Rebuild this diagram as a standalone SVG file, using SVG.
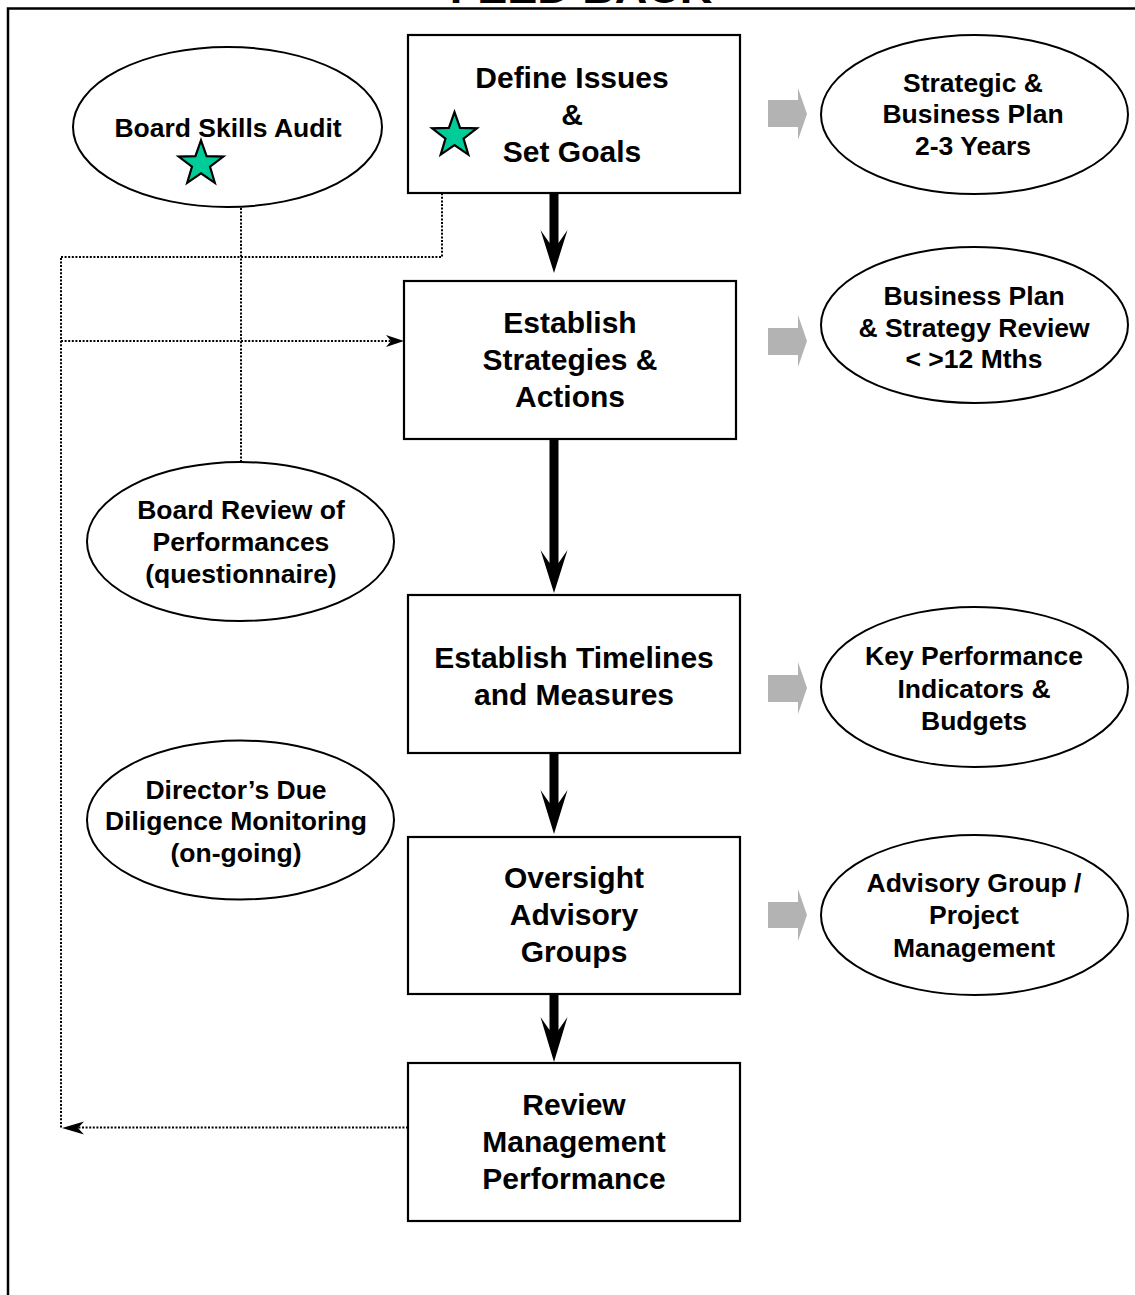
<svg xmlns="http://www.w3.org/2000/svg" width="1135" height="1295" viewBox="0 0 1135 1295">
<style>
  .box { fill: #ffffff; stroke: #000000; stroke-width: 2.2; }
  .ell { fill: #ffffff; stroke: #000000; stroke-width: 2; }
  .bt { font-family: "Liberation Sans", Arial, sans-serif; font-weight: bold; font-size: 30px; text-anchor: middle; fill: #000000; }
  .et { font-family: "Liberation Sans", Arial, sans-serif; font-weight: bold; font-size: 26.5px; text-anchor: middle; fill: #000000; }
  .dot { fill: none; stroke: #000000; stroke-width: 2; stroke-dasharray: 2 1.6; }
  .head { fill: #000000; stroke: none; }
  .grey { fill: #b3b3b3; stroke: none; }
  .flow { fill: #000000; stroke: none; }
  .star { fill: #00cc99; stroke: #000000; stroke-width: 2.2; stroke-linejoin: miter; }
</style>
<defs>
  <polygon id="starShape" points="0,-23.5 5.58,-7.69 22.35,-7.26 9.04,2.94 13.81,19.01 0,9.5 -13.81,19.01 -9.04,2.94 -22.35,-7.26 -5.58,-7.69"/>
</defs>
<rect x="0" y="0" width="1135" height="1295" fill="#ffffff"/>

<g id="frame">
  <path d="M 8,1295 V 8.5 H 1135" fill="none" stroke="#000000" stroke-width="2.5"/>
  <text x="581" y="3" font-family="Liberation Sans, Arial, sans-serif" font-weight="bold" font-size="45" text-anchor="middle">FEED BACK</text>
</g>

<g id="connectors">
  <!-- main flow arrows -->
  <polygon class="flow" points="549.5,193 558.5,193 558.5,243 567.5,230 554,273 540.5,230 549.5,243"/>
  <polygon class="flow" points="549.5,436 558.5,436 558.5,563 567.5,550 554,593 540.5,550 549.5,563"/>
  <polygon class="flow" points="549.5,753 558.5,753 558.5,803 567.5,790 554,834 540.5,790 549.5,803"/>
  <polygon class="flow" points="549.5,994 558.5,994 558.5,1030 567.5,1017 554,1062 540.5,1017 549.5,1030"/>
  <!-- grey block arrows -->
  <polygon class="grey" points="768,100 798,100 798,88 807,114 798,140 798,127 768,127"/>
  <polygon class="grey" points="768,328 798,328 798,315 807,341 798,367 798,355 768,355"/>
  <polygon class="grey" points="768,675 798,675 798,662 807,688 798,714 798,702 768,702"/>
  <polygon class="grey" points="768,902 798,902 798,889 807,915 798,941 798,928 768,928"/>
  <!-- dotted feedback lines -->
  <path class="dot" d="M 408,1127.5 H 70"/>
  <path class="dot" d="M 61,1127.5 V 257"/>
  <path class="dot" d="M 61,257 H 442 V 163"/>
  <path class="dot" d="M 61,341 H 392"/>
  <path class="dot" d="M 241,462 V 167 H 214"/>
  <polygon class="head" points="62,1128 84,1121.5 78,1128 84,1134.5"/>
  <polygon class="head" points="404,341 386,335 391,341 386,347"/>
  <polygon class="head" points="442,155 438,164 446,164"/>
  <polygon class="head" points="207,167 218,162.5 215,167 218,171.5"/>
</g>

<g id="node-define">
  <rect class="box" x="408" y="35" width="332" height="158"/>
  <text class="bt" x="572" y="88">Define Issues</text>
  <text class="bt" x="572" y="125">&amp;</text>
  <text class="bt" x="572" y="162">Set Goals</text>
  <use href="#starShape" class="star" transform="translate(454.5,135.6)"/>
</g>

<g id="node-strategies">
  <rect class="box" x="404" y="281" width="332" height="158"/>
  <text class="bt" x="570" y="333">Establish</text>
  <text class="bt" x="570" y="370">Strategies &amp;</text>
  <text class="bt" x="570" y="407">Actions</text>
</g>

<g id="node-timelines">
  <rect class="box" x="408" y="595" width="332" height="158"/>
  <text class="bt" x="574" y="668">Establish Timelines</text>
  <text class="bt" x="574" y="705">and Measures</text>
</g>

<g id="node-oversight">
  <rect class="box" x="408" y="837" width="332" height="157"/>
  <text class="bt" x="574" y="888">Oversight</text>
  <text class="bt" x="574" y="925">Advisory</text>
  <text class="bt" x="574" y="962">Groups</text>
</g>

<g id="node-review">
  <rect class="box" x="408" y="1063" width="332" height="158"/>
  <text class="bt" x="574" y="1115">Review</text>
  <text class="bt" x="574" y="1152">Management</text>
  <text class="bt" x="574" y="1189">Performance</text>
</g>

<g id="node-skills-audit">
  <ellipse class="ell" cx="227.5" cy="127" rx="154.5" ry="80"/>
  <text class="et" x="228" y="137">Board Skills Audit</text>
  <use href="#starShape" class="star" transform="translate(201,163.8)"/>
</g>

<g id="node-board-review">
  <ellipse class="ell" cx="240.5" cy="541.5" rx="153.5" ry="79.5"/>
  <text class="et" x="241" y="519">Board Review of</text>
  <text class="et" x="241" y="551">Performances</text>
  <text class="et" x="241" y="583">(questionnaire)</text>
</g>

<g id="node-due-diligence">
  <ellipse class="ell" cx="240.5" cy="820" rx="153.5" ry="79.5"/>
  <text class="et" x="236" y="799">Director’s Due</text>
  <text class="et" x="236" y="830">Diligence Monitoring</text>
  <text class="et" x="236" y="862">(on-going)</text>
</g>

<g id="node-strategic-plan">
  <ellipse class="ell" cx="974.5" cy="114.5" rx="153.5" ry="79.5"/>
  <text class="et" x="973" y="92">Strategic &amp;</text>
  <text class="et" x="973" y="123">Business Plan</text>
  <text class="et" x="973" y="155">2-3 Years</text>
</g>

<g id="node-plan-review">
  <ellipse class="ell" cx="974.5" cy="325" rx="153.5" ry="78"/>
  <text class="et" x="974" y="305">Business Plan</text>
  <text class="et" x="974" y="337">&amp; Strategy Review</text>
  <text class="et" x="974" y="368">&lt; &gt;12 Mths</text>
</g>

<g id="node-kpi">
  <ellipse class="ell" cx="974.5" cy="687" rx="153.5" ry="80"/>
  <text class="et" x="974" y="665">Key Performance</text>
  <text class="et" x="974" y="698">Indicators &amp;</text>
  <text class="et" x="974" y="730">Budgets</text>
</g>

<g id="node-advisory">
  <ellipse class="ell" cx="974.5" cy="915" rx="153.5" ry="80"/>
  <text class="et" x="974" y="892">Advisory Group /</text>
  <text class="et" x="974" y="924">Project</text>
  <text class="et" x="974" y="957">Management</text>
</g>
</svg>
